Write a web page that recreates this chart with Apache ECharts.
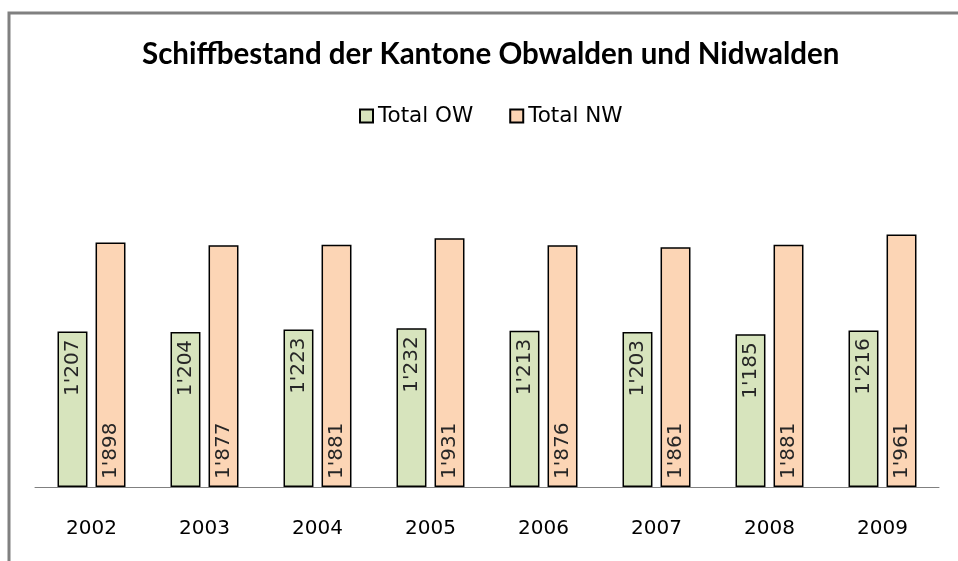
<!DOCTYPE html>
<html><head><meta charset="utf-8">
<script src="https://cdn.jsdelivr.net/npm/echarts@6/dist/echarts.min.js"></script>
<style>html,body{margin:0;padding:0;background:#fff}#c{width:958px;height:561px}</style>
</head><body><div id="c"></div>
<script>
const categories = ['2002','2003','2004','2005','2006','2007','2008','2009'];
const totalOW = [1207,1204,1223,1232,1213,1203,1185,1216];
const totalNW = [1898,1877,1881,1931,1876,1861,1881,1961];
const seriesNames = ['Total OW','Total NW'];
const TFONT = 'Lato';
const FONT = 'DejaVu Sans';
function fmt(v){ const s=String(v); return s.length>3 ? s.slice(0,-3)+"'"+s.slice(-3) : s; }
const chart = echarts.init(document.getElementById('c'));
chart.setOption({
  animation:false,
  textStyle:{fontFamily:FONT},
  graphic:[{type:'rect',shape:{x:9,y:13,width:960,height:600},style:{fill:'none',stroke:'#808080',lineWidth:3},silent:true}],
  title:{text:'Schiffbestand der Kantone Obwalden und Nidwalden',left:137,top:34,
    textStyle:{fontFamily:TFONT,fontSize:29.5,fontWeight:'bold',color:'#000'}},
  legend:{top:100,left:354,itemWidth:13,itemHeight:13,itemGap:36,
    textStyle:{fontFamily:FONT,fontSize:21.5,color:'#000'},
    data:seriesNames.map(n=>({name:n,icon:'rect'}))},
  grid:{left:35,right:19,top:165,bottom:74},
  xAxis:{type:'category',data:categories,axisTick:{show:false},
    axisLine:{lineStyle:{color:'#808080',width:1}},
    axisLabel:{fontFamily:FONT,fontSize:20,color:'#000',margin:32}},
  yAxis:{type:'value',min:0,max:2500,show:false,splitLine:{show:false}},
  series:[
    {name:seriesNames[0],type:'bar',data:totalOW,barWidth:'26.5%',barGap:'27%',
     itemStyle:{color:'#D7E4BD',borderColor:'#000',borderWidth:1.5},
     label:{show:true,position:'insideTop',rotate:90,align:'right',verticalAlign:'middle',distance:8,
       fontFamily:FONT,fontSize:20,color:'#262626',formatter:p=>fmt(p.value)}},
    {name:seriesNames[1],type:'bar',data:totalNW,barWidth:'26.5%',barGap:'27%',
     itemStyle:{color:'#FCD5B5',borderColor:'#000',borderWidth:1.5},
     label:{show:true,position:'insideBottom',rotate:90,align:'left',verticalAlign:'middle',distance:8,
       fontFamily:FONT,fontSize:20,color:'#262626',formatter:p=>fmt(p.value)}}
  ]
});
</script></body></html>
